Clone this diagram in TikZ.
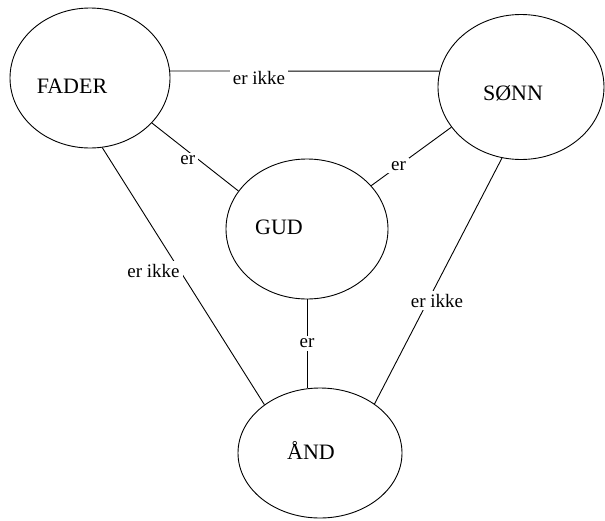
\documentclass[tikz,border=0pt]{standalone}
\usepackage{fontspec}
\setmainfont{Liberation Serif}
\usetikzlibrary{shapes.geometric, positioning}

\begin{document}
\begin{tikzpicture}[x=1pt, y=-1pt,
    blob/.style={ellipse, draw, line width=0.9pt, inner sep=0pt, minimum width=162pt, minimum height=140pt},
    rel/.style={line width=0.9pt},
    lbl/.style={fill=white, inner sep=3pt, font=\fontsize{19}{21}\selectfont},
    word/.style={font=\fontsize{22}{24}\selectfont}]

    \useasboundingbox (0,0) rectangle (605,520);

    % Persons
    \node[blob, minimum width=160pt, label={[word, shift={(-18pt,-8pt)}]center:FADER}] (fader) at (90,78) {};
    \node[blob, minimum width=166pt, minimum height=145pt, label={[word, shift={(-8pt,-6pt)}]center:SØNN}] (sonn) at (521,87) {};
    \node[blob, label={[word, shift={(-28pt,2pt)}]center:GUD}] (gud) at (307,229) {};
    \node[blob, minimum width=164pt, minimum height=130pt, label={[word, shift={(-9pt,3pt)}]center:ÅND}] (and) at (320,453) {};

    % Relations
    \draw[rel] (fader.5) -- node[lbl, pos=0.33, yshift=-7pt] {er ikke} (sonn.169);
    \draw[rel] (fader.-36) -- node[lbl, pos=0.45, shift={(-3pt,-7pt)}] {er} (gud.151);
    \draw[rel] (sonn.210) -- node[lbl, pos=0.66] {er} (gud.34);
    \draw[rel] (gud.south) -- node[lbl] {er} (gud.south |- and.north);
    \draw[rel] (fader.-80) -- node[lbl, pos=0.48, anchor=east, xshift=3pt] {er ikke} (and.139);
    \draw[rel] (sonn.255) -- node[lbl, pos=0.58, xshift=9pt] {er ikke} (and.42);

\end{tikzpicture}
\end{document}
